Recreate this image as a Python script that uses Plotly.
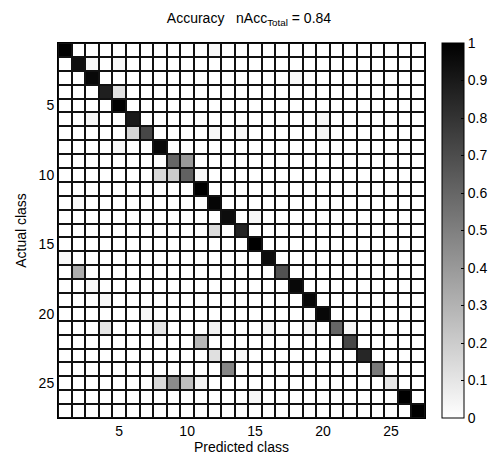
import numpy as np
import plotly.graph_objects as go

n_classes = 27
classes = list(range(1, n_classes + 1))

# diagonal (correct) rates per actual class
diag_vals = [1.0, 0.94, 0.97, 0.88, 1.0, 0.9, 0.72, 0.97, 0.6, 0.62, 1.0, 0.98, 0.95,
             0.86, 1.0, 0.95, 0.68, 0.97, 0.97, 0.97, 0.6, 0.72, 0.85, 0.52, 0.1, 1.0, 1.0]

# off-diagonal confusions: actual class, predicted class, rate
off_actual = [1, 2, 2, 3, 4, 6, 6, 7, 7, 7, 7, 8, 9, 10, 10, 10, 12, 13,
              14, 16, 17, 18, 19, 20, 21, 21, 21, 21, 21, 21, 22, 23, 23, 24,
              25, 25, 25, 25, 26]
off_pred = [12, 3, 5, 18, 5, 3, 20, 6, 12, 14, 20, 5, 10, 8, 9, 11, 2, 15,
            12, 1, 2, 3, 4, 7, 4, 8, 12, 16, 19, 22, 11, 12, 14, 13,
            8, 9, 10, 11, 15]
off_vals = [0.03, 0.03, 0.03, 0.03, 0.12, 0.03, 0.03, 0.16, 0.03, 0.03, 0.04, 0.03, 0.4, 0.15, 0.2, 0.03, 0.02, 0.03,
            0.14, 0.03, 0.32, 0.03, 0.03, 0.03, 0.1, 0.1, 0.05, 0.03, 0.04, 0.04, 0.28, 0.12, 0.03, 0.48,
            0.15, 0.45, 0.25, 0.05, 0.03]

z = np.zeros((n_classes, n_classes))
for i, v in enumerate(diag_vals):
    z[i, i] = v
for a, p, v in zip(off_actual, off_pred, off_vals):
    z[a - 1, p - 1] = v

tick_vals = [5, 10, 15, 20, 25]
cbar_ticks = [round(0.1 * k, 1) for k in range(11)]
cbar_text = ["0", "0.1", "0.2", "0.3", "0.4", "0.5", "0.6", "0.7", "0.8", "0.9", "1"]

font = "Liberation Sans, Arial, Helvetica, sans-serif"
fs = 14

fig = go.Figure(go.Heatmap(
    z=z, x=classes, y=classes,
    zmin=0, zmax=1,
    colorscale=[[0, "rgb(255,255,255)"], [1, "rgb(0,0,0)"]],
    xgap=2, ygap=2,
    hoverinfo="skip",
    colorbar=dict(
        x=1.047, xanchor="left", xref="paper",
        y=0.5, yanchor="middle", len=1.0, lenmode="fraction",
        thickness=22, thicknessmode="pixels",
        outlinecolor="black", outlinewidth=1,
        tickvals=cbar_ticks, ticktext=cbar_text,
        ticks="inside", ticklen=3, tickcolor="black",
        tickfont=dict(family=font, size=fs, color="black"),
        xpad=0, ypad=0,
    ),
))

fig.update_layout(
    width=496, height=454,
    margin=dict(l=50, r=64, t=35, b=37),
    paper_bgcolor="white",
    plot_bgcolor="#111111",
    font=dict(family=font, size=fs, color="black"),
    title=dict(text="Accuracy   nAcc<sub>Total</sub> = 0.84", x=0.4858, xanchor="center",
               y=1 - 10 / 454, yanchor="middle", font=dict(family=font, size=fs, color="black")),
)
fig.update_xaxes(
    range=[0.5, n_classes + 0.5], tickvals=tick_vals, ticks="", showgrid=False, zeroline=False,
    title=dict(text="Predicted class", standoff=1, font=dict(size=fs)),
    showline=True, linecolor="black", linewidth=1, mirror=True,
    tickfont=dict(size=fs),
)
fig.update_yaxes(
    range=[n_classes + 0.5, 0.5], tickvals=tick_vals, ticks="", showgrid=False, zeroline=False,
    title=dict(text="Actual class", standoff=8, font=dict(size=fs)),
    showline=True, linecolor="black", linewidth=1, mirror=True,
    tickfont=dict(size=fs),
)

fig.write_html("out.html")
